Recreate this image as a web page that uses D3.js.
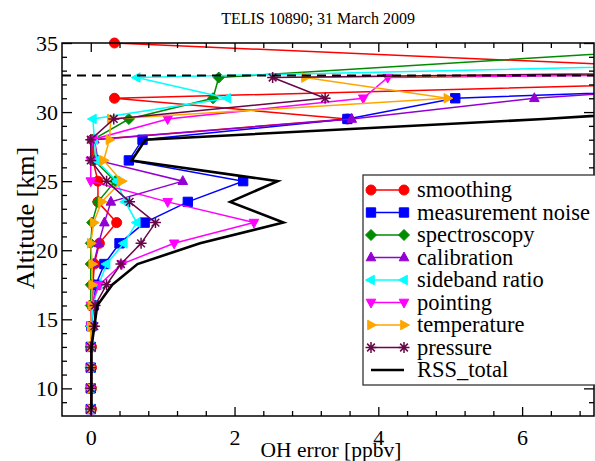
<!DOCTYPE html>
<html lang="en">
<head>
<meta charset="utf-8">
<title>TELIS OH error</title>
<script src="https://d3js.org/d3.v7.min.js"></script>
<style>
  body { margin: 0; background: white; }
  svg text { font-family: "Liberation Serif", "Times New Roman", serif; fill: black; }
  .axis path { display: none; }
  .axis line { stroke: black; stroke-width: 1.3; }
  .axis text { font-size: 22px; }
</style>
</head>
<body>
<div id="chart"></div>
<script>
// altitude grid [km]
var altitude = [8.5, 10, 11.5, 13, 14.5, 16, 17.5, 19, 20.5, 22, 23.5, 25, 26.5, 28, 29.5, 31, 32.5, 35];

// OH error components [ppbv], one value per altitude
var smoothing   = [0.01, 0.01, 0.01, 0.01, 0.02, 0.02, 0.03, 0.05, 0.12, 0.36, 0.10, 0.10, 0.03, 0.02, 3.57, 0.33, 11.4, 0.33];
var measNoise   = [0.00, 0.00, 0.00, 0.00, 0.01, 0.04, 0.07, 0.19, 0.40, 0.75, 1.35, 2.12, 0.53, 0.72, 3.57, 5.07, 13.0, 30.0];
var spectroscopy= [0.00, 0.00, 0.00, 0.00, 0.00, 0.00, 0.00, 0.00, 0.00, 0.02, 0.10, 0.34, 0.05, 0.03, 0.53, 1.70, 1.78, 9.5];
var calibration = [0.00, 0.00, 0.00, 0.00, 0.01, 0.02, 0.03, 0.04, 0.11, 0.19, 0.28, 1.28, 0.10, 0.05, 3.63, 6.17, 10.4, 30.0];
var sideband    = [0.00, 0.00, 0.00, 0.00, 0.01, 0.03, 0.11, 0.22, 0.46, 0.64, 0.48, 0.36, 0.08, 0.05, 0.03, 1.90, 0.64, 22.0];
var pointing    = [0.00, 0.00, 0.00, 0.00, 0.00, 0.00, 0.12, 0.43, 1.16, 2.27, 1.07, 0.00, 0.00, 0.02, 1.07, 3.79, 4.13, 50.0];
var temperature = [0.00, 0.00, 0.00, 0.00, 0.00, 0.01, 0.02, 0.02, 0.00, 0.04, 0.15, 0.43, 0.18, 0.26, 0.28, 4.96, 2.98, 40.0];
var pressure    = [0.00, 0.00, 0.00, 0.00, 0.05, 0.06, 0.22, 0.42, 0.70, 0.90, 0.54, 0.22, 0.00, 0.00, 0.32, 3.26, 2.53, 45.0];
var rssTotal    = [0.01, 0.01, 0.01, 0.01, 0.05, 0.09, 0.30, 0.65, 1.52, 2.68, 1.94, 2.60, 0.57, 0.76, 6.30, 10.95, 21.0, 80.0];

var seriesNames  = ["smoothing", "measurement noise", "spectroscopy", "calibration", "sideband ratio", "pointing", "temperature", "pressure", "RSS_total"];
var seriesValues = [smoothing, measNoise, spectroscopy, calibration, sideband, pointing, temperature, pressure, rssTotal];
var seriesColors = ["#ff0000", "#0000ff", "#008b00", "#9400d3", "#00ffff", "#ff00ff", "#ffa500", "#670748", "#000000"];
var seriesSymbols = ["circle", "square", "diamond", "up", "left", "down", "right", "star", null];

var xTicks = [0, 2, 4, 6];
var yTicks = [10, 15, 20, 25, 30, 35];
var dashedAltitude = 32.65;

var W = 595, H = 461;
var margin = { top: 43, right: 1, bottom: 45, left: 62 };

var x = d3.scaleLinear().domain([-0.4, 7]).range([margin.left, W - margin.right]);
var y = d3.scaleLinear().domain([8, 35]).range([H - margin.bottom, margin.top]);

var plotLeft = x.range()[0], plotRight = x.range()[1];
var plotBottom = y.range()[0], plotTop = y.range()[1];

var svg = d3.select('#chart').append('svg')
  .attr('width', W)
  .attr('height', H);

svg.append('clipPath').attr('id', 'plotclip')
  .append('rect')
  .attr('x', plotLeft).attr('y', plotTop)
  .attr('width', plotRight - plotLeft)
  .attr('height', plotBottom - plotTop);

// symbol paths
function symbolPath(type, r) {
  var k = 0.87;
  switch (type) {
    case 'circle': return 'M' + (-r) + ',0a' + r + ',' + r + ' 0 1,0 ' + (2 * r) + ',0a' + r + ',' + r + ' 0 1,0 ' + (-2 * r) + ',0Z';
    case 'square': var s = r * 0.85; return 'M' + (-s) + ',' + (-s) + 'h' + (2 * s) + 'v' + (2 * s) + 'h' + (-2 * s) + 'Z';
    case 'diamond': return 'M0,' + (-r) + 'L' + r + ',0L0,' + r + 'L' + (-r) + ',0Z';
    case 'up': return 'M0,' + (-r) + 'L' + (r * k) + ',' + (r * 0.6) + 'L' + (-r * k) + ',' + (r * 0.6) + 'Z';
    case 'down': return 'M0,' + r + 'L' + (r * k) + ',' + (-r * 0.6) + 'L' + (-r * k) + ',' + (-r * 0.6) + 'Z';
    case 'left': return 'M' + (-r) + ',0L' + (r * 0.6) + ',' + (r * k) + 'L' + (r * 0.6) + ',' + (-r * k) + 'Z';
    case 'right': return 'M' + r + ',0L' + (-r * 0.6) + ',' + (r * k) + 'L' + (-r * 0.6) + ',' + (-r * k) + 'Z';
    case 'star': var d = r * 0.7;
      return 'M' + (-r) + ',0H' + r + 'M0,' + (-r) + 'V' + r +
        'M' + (-d) + ',' + (-d) + 'L' + d + ',' + d + 'M' + d + ',' + (-d) + 'L' + (-d) + ',' + d;
  }
  return '';
}

function drawSymbol(g, type, color, cx, cy) {
  var p = g.append('path')
    .attr('d', symbolPath(type, type === 'circle' ? 5 : 5.5))
    .attr('transform', 'translate(' + cx + ',' + cy + ')');
  if (type === 'star') p.attr('fill', 'none').attr('stroke', color).attr('stroke-width', 1.5);
  else p.attr('fill', color).attr('stroke', color).attr('stroke-width', 1);
}

var line = d3.line()
  .x(function (d) { return x(d[0]); })
  .y(function (d) { return y(d[1]); });

// data lines, RSS drawn last
var plot = svg.append('g');
seriesValues.forEach(function (vals, i) {
  var pts = altitude.map(function (a, j) { return [vals[j], a]; });
  var g = plot.append('g');
  g.append('path')
    .datum(pts)
    .attr('d', line)
    .attr('clip-path', 'url(#plotclip)')
    .attr('fill', 'none')
    .attr('stroke', seriesColors[i])
    .attr('stroke-width', seriesSymbols[i] ? 1.5 : 2.6)
    .attr('stroke-linejoin', 'miter');
  if (seriesSymbols[i]) {
    pts.forEach(function (p) {
      if (p[0] >= x.domain()[0] && p[0] <= x.domain()[1] && p[1] >= y.domain()[0] && p[1] <= y.domain()[1]) {
        drawSymbol(g, seriesSymbols[i], seriesColors[i], x(p[0]), y(p[1]));
      }
    });
  }
});

// dashed level
svg.append('line')
  .attr('x1', plotLeft).attr('x2', plotRight)
  .attr('y1', y(dashedAltitude)).attr('y2', y(dashedAltitude))
  .attr('stroke', 'black').attr('stroke-width', 2)
  .attr('stroke-dasharray', '9,6');

// axes with inward ticks
var xMinor = d3.range(0.4, 7.0, 0.4).filter(function (v) { return xTicks.indexOf(Math.round(v * 10) / 10) < 0; });
var yMinor = d3.range(9, 35, 1).filter(function (v) { return yTicks.indexOf(v) < 0; });

svg.append('g').attr('class', 'axis').attr('transform', 'translate(0,' + plotBottom + ')')
  .call(d3.axisBottom(x).tickValues(xTicks).tickSize(-9).tickPadding(13).tickFormat(d3.format('d')));
svg.append('g').attr('class', 'axis').attr('transform', 'translate(0,' + plotBottom + ')')
  .call(d3.axisBottom(x).tickValues(xMinor).tickSize(-5).tickFormat(''));
svg.append('g').attr('class', 'axis').attr('transform', 'translate(0,' + plotTop + ')')
  .call(d3.axisTop(x).tickValues(xTicks).tickSize(-9).tickFormat(''));
svg.append('g').attr('class', 'axis').attr('transform', 'translate(0,' + plotTop + ')')
  .call(d3.axisTop(x).tickValues(xMinor).tickSize(-5).tickFormat(''));

svg.append('g').attr('class', 'axis').attr('transform', 'translate(' + plotLeft + ',0)')
  .call(d3.axisLeft(y).tickValues(yTicks).tickSize(-10).tickPadding(4).tickFormat(d3.format('d')));
svg.append('g').attr('class', 'axis').attr('transform', 'translate(' + plotLeft + ',0)')
  .call(d3.axisLeft(y).tickValues(yMinor).tickSize(-5).tickFormat(''));
svg.append('g').attr('class', 'axis').attr('transform', 'translate(' + plotRight + ',0)')
  .call(d3.axisRight(y).tickValues(yTicks).tickSize(-10).tickFormat(''));
svg.append('g').attr('class', 'axis').attr('transform', 'translate(' + plotRight + ',0)')
  .call(d3.axisRight(y).tickValues(yMinor).tickSize(-5).tickFormat(''));

svg.append('rect')
  .attr('x', plotLeft).attr('y', plotTop)
  .attr('width', plotRight - plotLeft).attr('height', plotBottom - plotTop)
  .attr('fill', 'none').attr('stroke', 'black').attr('stroke-width', 1.5);

// titles
svg.append('text')
  .attr('x', 318).attr('y', 24)
  .attr('text-anchor', 'middle')
  .style('font-size', '16px')
  .text('TELIS 10890; 31 March 2009');

svg.append('text')
  .attr('x', 331).attr('y', 457)
  .attr('text-anchor', 'middle')
  .style('font-size', '21.5px')
  .text('OH error [ppbv]');

svg.append('text')
  .attr('transform', 'translate(34,218) rotate(-90)')
  .attr('text-anchor', 'middle')
  .style('font-size', '26px')
  .text('Altitude [km]');

// legend
var legend = svg.append('g');
legend.append('rect')
  .attr('x', 363).attr('y', 175)
  .attr('width', 250).attr('height', 210)
  .attr('fill', 'white').attr('stroke', '#333').attr('stroke-width', 1.3);

seriesNames.forEach(function (name, i) {
  var ly = 190 + i * 22.5;
  var g = legend.append('g');
  g.append('line')
    .attr('x1', 371).attr('x2', 404)
    .attr('y1', ly).attr('y2', ly)
    .attr('stroke', seriesColors[i])
    .attr('stroke-width', seriesSymbols[i] ? 1.5 : 2.6);
  if (seriesSymbols[i]) {
    drawSymbol(g, seriesSymbols[i], seriesColors[i], 371, ly);
    drawSymbol(g, seriesSymbols[i], seriesColors[i], 404, ly);
  }
  g.append('text')
    .attr('x', 417).attr('y', ly + 7)
    .style('font-size', '22.5px')
    .text(name);
});
</script>
</body>
</html>
